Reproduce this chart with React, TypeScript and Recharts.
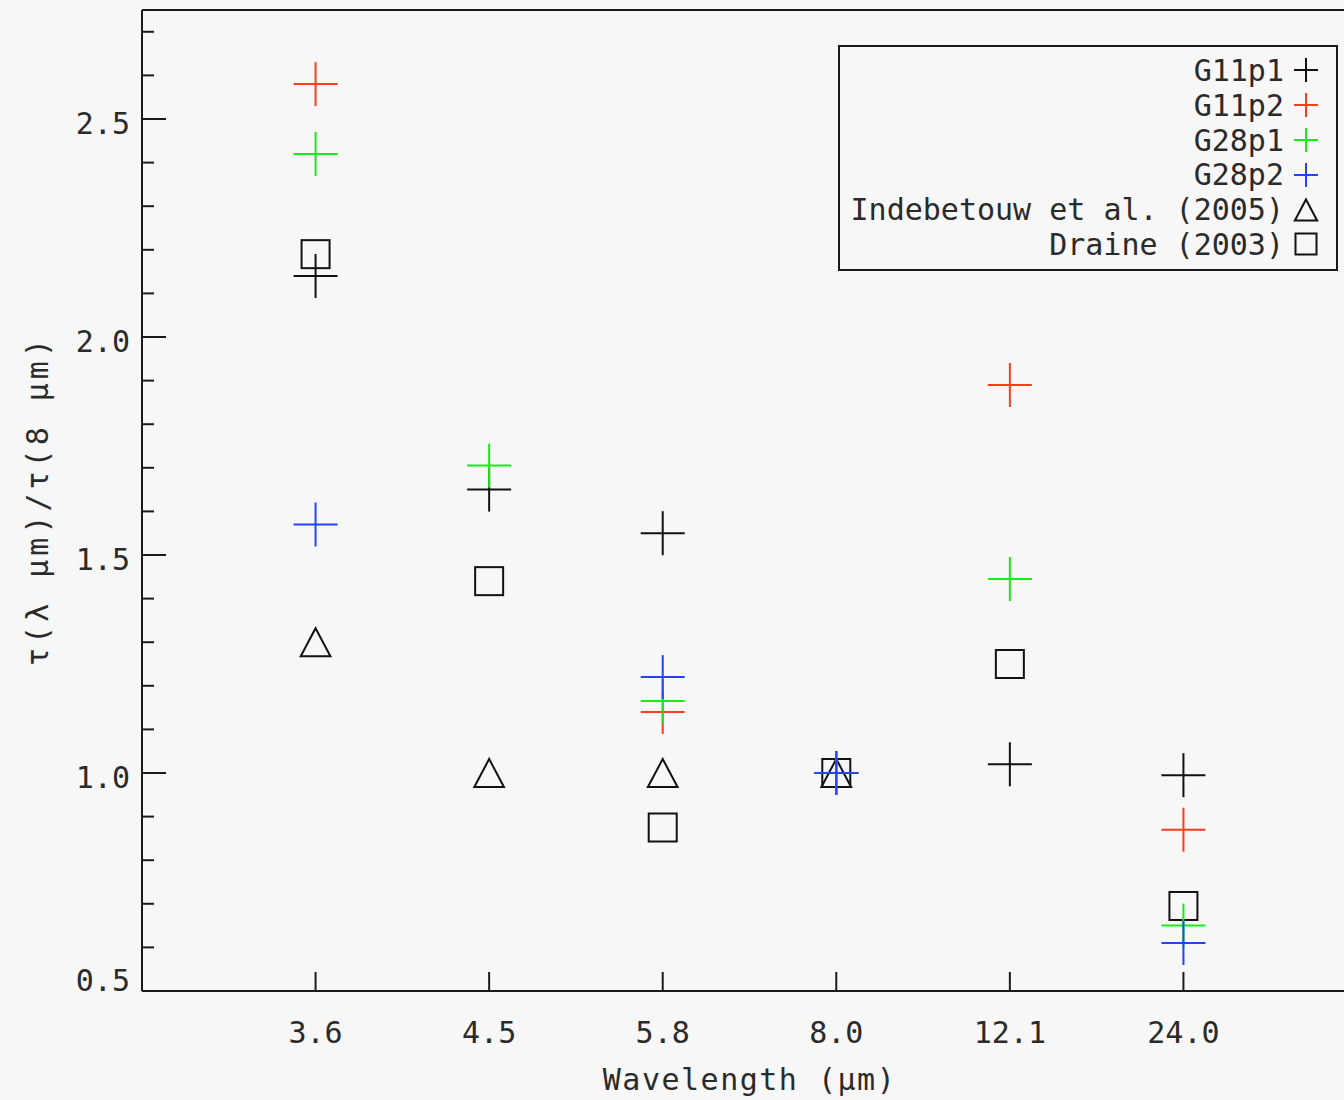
import { ScatterChart, Scatter, XAxis, YAxis } from 'recharts';

// wavelength bands (category labels on the x axis)
const wavelengths = ['3.6', '4.5', '5.8', '8.0', '12.1', '24.0'];
const xPositions = [1, 2, 3, 4, 5, 6];

// tau(lambda)/tau(8um) per band, null = not measured
const g11p1 = [2.14, 1.65, 1.55, 1.0, 1.02, 0.995];
const g11p2 = [2.58, null, 1.14, 1.0, 1.89, 0.87];
const g28p1 = [2.42, 1.705, 1.165, 1.0, 1.445, 0.65];
const g28p2 = [1.57, null, 1.22, 1.0, null, 0.61];
const indebetouw = [1.3, 1.0, 1.0, 1.0, null, null];
const draine = [2.19, 1.44, 0.875, 1.0, 1.25, 0.695];

const yTicks = [0.5, 0.6, 0.7, 0.8, 0.9, 1.0, 1.1, 1.2, 1.3, 1.4, 1.5, 1.6, 1.7, 1.8, 1.9, 2.0, 2.1, 2.2, 2.3, 2.4, 2.5, 2.6, 2.7];
const yMajor = [0.5, 1.0, 1.5, 2.0, 2.5];

const FONT = '"DejaVu Sans Mono", monospace';
const INK = '#1a1a1a';
const TEXT = '#2a2a2a';

type Marker = 'cross' | 'triangle' | 'square';

const series: { name: string; values: (number | null)[]; color: string; marker: Marker }[] = [
    { name: 'G11p1', values: g11p1, color: '#111111', marker: 'cross' },
    { name: 'G11p2', values: g11p2, color: '#ff3b1c', marker: 'cross' },
    { name: 'G28p1', values: g28p1, color: '#14ee14', marker: 'cross' },
    { name: 'G28p2', values: g28p2, color: '#2443ff', marker: 'cross' },
    { name: 'Indebetouw et al. (2005)', values: indebetouw, color: '#111111', marker: 'triangle' },
    { name: 'Draine (2003)', values: draine, color: '#111111', marker: 'square' },
];

// squares/triangles underneath, crosses on top
const drawOrder = [5, 4, 0, 1, 2, 3];

const toPoints = (values: (number | null)[]) =>
    values
        .map((v, i) => ({ x: xPositions[i], y: v }))
        .filter((p) => p.y !== null);

const isMajor = (v: number) => yMajor.some((m) => Math.abs(m - v) < 1e-6);

// size = half length of the cross arms, box = half size of square / triangle
const MarkerShape = ({ cx, cy, color, marker, size, box }: any) => {
    if (marker === 'cross') {
        return (
            <g stroke={color} strokeWidth={2}>
                <line x1={cx - size} y1={cy} x2={cx + size} y2={cy} />
                <line x1={cx} y1={cy - size} x2={cx} y2={cy + size} />
            </g>
        );
    }
    if (marker === 'square') {
        return <rect x={cx - box} y={cy - box} width={box * 2} height={box * 2} fill="none" stroke={color} strokeWidth={2} />;
    }
    const w = box * 1.06;
    return (
        <polygon
            points={`${cx},${cy - box} ${cx + w},${cy + box} ${cx - w},${cy + box}`}
            fill="none"
            stroke={color}
            strokeWidth={2}
        />
    );
};

const LeftTick = ({ x, y, payload }: any) => {
    const v = payload.value;
    const major = isMajor(v);
    return (
        <g>
            <line x1={x} y1={y} x2={x + (major ? 24 : 12)} y2={y} stroke={INK} strokeWidth={2} />
            {major && (
                <text x={x - 12} y={v === 0.5 ? y : y + 15} textAnchor="end" fontFamily={FONT} fontSize={30} fill={TEXT}>
                    {v.toFixed(1)}
                </text>
            )}
        </g>
    );
};

const RightTick = ({ x, y, payload }: any) => {
    const major = isMajor(payload.value);
    return <line x1={x} y1={y} x2={x - (major ? 24 : 12)} y2={y} stroke={INK} strokeWidth={2} />;
};

const BottomTick = ({ x, y, payload }: any) => (
    <g>
        <line x1={x} y1={y} x2={x} y2={y - 19} stroke={INK} strokeWidth={2} />
        <text x={x} y={y + 52} textAnchor="middle" fontFamily={FONT} fontSize={30} fill={TEXT}>
            {wavelengths[xPositions.indexOf(payload.value)]}
        </text>
    </g>
);

const TopTick = ({ x, y }: any) => <line x1={x} y1={y} x2={x} y2={y + 20} stroke={INK} strokeWidth={2} />;

const xTitle = ({ viewBox }: any) => (
    <text
        x={viewBox.x + viewBox.width / 2}
        y={viewBox.y + 99}
        textAnchor="middle"
        fontFamily={FONT}
        fontSize={30}
        letterSpacing={1.5}
        fill={TEXT}
    >
        Wavelength (μm)
    </text>
);

const yTitle = ({ viewBox }: any) => {
    const cy = viewBox.y + viewBox.height / 2;
    return (
        <text
            x={37}
            y={cy}
            transform={`rotate(-90, 37, ${cy})`}
            textAnchor="middle"
            dominantBaseline="central"
            fontFamily={FONT}
            fontSize={30}
            letterSpacing={4}
            fill={TEXT}
        >
            τ(λ μm)/τ(8 μm)
        </text>
    );
};

const LegendBox = () => (
    <div
        style={{
            position: 'absolute',
            left: 838,
            top: 45,
            width: 500,
            height: 226,
            boxSizing: 'border-box',
            border: `2px solid ${INK}`,
            paddingTop: 6,
            fontFamily: FONT,
            fontSize: 30,
            color: TEXT,
        }}
    >
        {series.map((s) => (
            <div
                key={s.name}
                style={{ display: 'flex', justifyContent: 'flex-end', alignItems: 'center', height: 34.8, paddingRight: 16 }}
            >
                <span style={{ whiteSpace: 'pre' }}>{s.name}</span>
                <svg width={28} height={28} style={{ marginLeft: 8 }}>
                    <MarkerShape cx={14} cy={14} color={s.color} marker={s.marker} size={12} box={10.5} />
                </svg>
            </div>
        ))}
    </div>
);

export default function App() {
    return (
        <div
            style={{
                position: 'absolute',
                left: 0,
                top: 0,
                width: 1344,
                height: 1100,
                overflow: 'hidden',
                background: '#f7f7f7',
            }}
        >
            <ScatterChart width={1380} height={1100} margin={{ top: 0, right: 0, bottom: 0, left: 0 }}>
                <XAxis
                    xAxisId="bottom"
                    type="number"
                    dataKey="x"
                    domain={[0, 7]}
                    ticks={xPositions}
                    interval={0}
                    height={109}
                    tickSize={0}
                    tickMargin={0}
                    tick={<BottomTick />}
                    axisLine={{ stroke: INK, strokeWidth: 2 }}
                    label={xTitle}
                />
                <XAxis
                    xAxisId="top"
                    orientation="top"
                    type="number"
                    dataKey="x"
                    domain={[0, 7]}
                    ticks={xPositions}
                    interval={0}
                    height={10}
                    tickSize={0}
                    tickMargin={0}
                    tick={<TopTick />}
                    axisLine={{ stroke: INK, strokeWidth: 2 }}
                />
                <YAxis
                    yAxisId="left"
                    type="number"
                    dataKey="y"
                    domain={[0.5, 2.75]}
                    ticks={yTicks}
                    interval={0}
                    width={142}
                    tickSize={0}
                    tickMargin={0}
                    tick={<LeftTick />}
                    axisLine={{ stroke: INK, strokeWidth: 2 }}
                    label={yTitle}
                />
                <YAxis
                    yAxisId="right"
                    orientation="right"
                    type="number"
                    dataKey="y"
                    domain={[0.5, 2.75]}
                    ticks={yTicks}
                    interval={0}
                    width={23}
                    tickSize={0}
                    tickMargin={0}
                    tick={<RightTick />}
                    axisLine={{ stroke: INK, strokeWidth: 2 }}
                />
                {drawOrder.map((i) => {
                    const s = series[i];
                    return (
                        <Scatter
                            key={s.name}
                            name={s.name}
                            xAxisId="bottom"
                            yAxisId="left"
                            data={toPoints(s.values)}
                            isAnimationActive={false}
                            shape={(p: any) => (
                                <MarkerShape cx={p.cx} cy={p.cy} color={s.color} marker={s.marker} size={22} box={14} />
                            )}
                        />
                    );
                })}
            </ScatterChart>
            <LegendBox />
        </div>
    );
}
